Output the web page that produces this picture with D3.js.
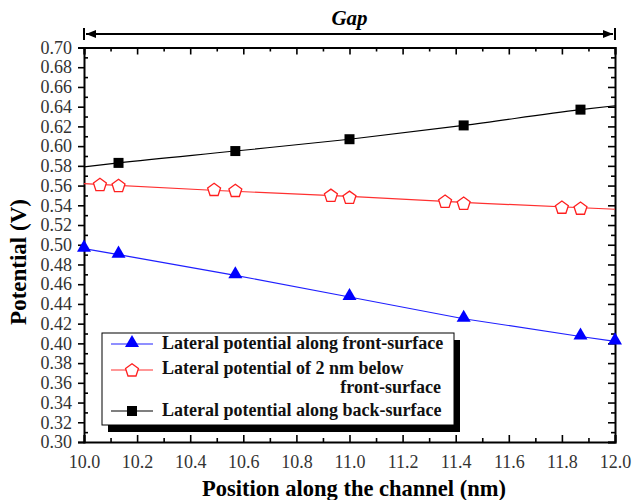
<!DOCTYPE html>
<html><head><meta charset="utf-8">
<script src="https://cdn.jsdelivr.net/npm/d3@7"></script>
<style>body{margin:0;background:#fff}svg{display:block}</style>
</head><body>
<svg id="chart" width="632" height="500"></svg>
<script>
// ---- data ----
const frontX = [10.0, 10.13, 10.57, 11.0, 11.43, 11.87, 12.0];
const frontY = [0.496, 0.490, 0.469, 0.447, 0.425, 0.407, 0.402];
const belowMarkX = [10.06, 10.13, 10.49, 10.57, 10.93, 11.0, 11.36, 11.43, 11.80, 11.87];
const belowMarkY = [0.561, 0.560, 0.556, 0.555, 0.550, 0.548, 0.544, 0.542, 0.538, 0.537];
const belowLineX = [10.0, 10.5, 11.0, 11.5, 12.0];
const belowLineY = [0.562, 0.555, 0.549, 0.542, 0.536];
const backMarkX = [10.13, 10.57, 11.0, 11.43, 11.87];
const backMarkY = [0.583, 0.595, 0.607, 0.621, 0.637];
const backLineX = [10.0, 10.13, 10.57, 11.0, 11.43, 11.87, 12.0];
const backLineY = [0.579, 0.583, 0.595, 0.607, 0.621, 0.637, 0.641];
const xTicks = [10.0, 10.2, 10.4, 10.6, 10.8, 11.0, 11.2, 11.4, 11.6, 11.8, 12.0];
const yTicks = [0.30,0.32,0.34,0.36,0.38,0.40,0.42,0.44,0.46,0.48,0.50,0.52,0.54,0.56,0.58,0.60,0.62,0.64,0.66,0.68,0.70];
const legendLabels = ["Lateral potential along  front-surface", "Lateral potential of 2 nm below", "front-surface", "Lateral potential along back-surface"];

const svg = d3.select("#chart");
const L = 84, R = 615, T = 47.5, B = 442;
const x = d3.scaleLinear().domain([10, 12]).range([L, R]);
const y = d3.scaleLinear().domain([0.30, 0.70]).range([B, T]);
const serif = '"Liberation Serif"';

const xMinor = d3.range(10.1, 12, 0.2);
const yMinor = d3.range(0.31, 0.70, 0.02);

const gB = svg.append("g").attr("transform", `translate(0,${B})`)
  .call(d3.axisBottom(x).tickValues(xTicks).tickSize(-7).tickPadding(13).tickFormat(d3.format(".1f")));
const gBm = svg.append("g").attr("transform", `translate(0,${B})`)
  .call(d3.axisBottom(x).tickValues(xMinor).tickSize(-4).tickFormat(""));
const gT = svg.append("g").attr("transform", `translate(0,${T})`)
  .call(d3.axisTop(x).tickValues(xTicks).tickSize(-7).tickFormat(""));
const gTm = svg.append("g").attr("transform", `translate(0,${T})`)
  .call(d3.axisTop(x).tickValues(xMinor).tickSize(-4).tickFormat(""));
const gL = svg.append("g").attr("transform", `translate(${L},0)`)
  .call(d3.axisLeft(y).tickValues(yTicks).tickSize(6).tickPadding(6).tickFormat(d3.format(".2f")));
const gLm = svg.append("g").attr("transform", `translate(${L},0)`)
  .call(d3.axisLeft(y).tickValues(yMinor).tickSize(-4).tickFormat(""));
const gR = svg.append("g").attr("transform", `translate(${R},0)`)
  .call(d3.axisRight(y).tickValues(yTicks).tickSize(-7).tickFormat(""));
const gRm = svg.append("g").attr("transform", `translate(${R},0)`)
  .call(d3.axisRight(y).tickValues(yMinor).tickSize(-4).tickFormat(""));

[gB,gBm,gT,gTm,gL,gLm,gR,gRm].forEach(g => {
  g.attr("font-family", null).attr("font-size", null);
  g.select(".domain").attr("stroke", "#000").attr("stroke-width", 2);
  g.selectAll(".tick line").attr("stroke", "#000").attr("stroke-width", 1.6);
  g.selectAll("text").style("font-family", serif).style("font-size", "18px").attr("fill", "#333");
});
[gBm,gTm,gLm,gRm].forEach(g => g.select(".domain").remove());

const line = d3.line().x(d => x(d[0])).y(d => y(d[1]));
const lineC = d3.line().x(d => x(d[0])).y(d => y(d[1])).curve(d3.curveMonotoneX);
const plot = svg.append("g");
plot.append("path").datum(frontX.map((v,i)=>[v,frontY[i]])).attr("d", line)
  .attr("fill","none").attr("stroke","#2020ff").attr("stroke-width",1.2);
plot.append("path").datum(belowLineX.map((v,i)=>[v,belowLineY[i]])).attr("d", line)
  .attr("fill","none").attr("stroke","#ff3030").attr("stroke-width",1.2);
plot.append("path").datum(backLineX.map((v,i)=>[v,backLineY[i]])).attr("d", lineC)
  .attr("fill","none").attr("stroke","#000").attr("stroke-width",1.1);

const tri = d3.symbol().type(d3.symbolTriangle).size(85);
const pent = (r) => {
  const pts = d3.range(5).map(i => { const a = -Math.PI/2 + i*2*Math.PI/5; return [r*Math.cos(a), r*Math.sin(a)]; });
  return "M" + pts.map(p => p.join(",")).join("L") + "Z";
};
plot.selectAll(".tri").data(frontX.map((v,i)=>[v,frontY[i]])).join("path")
  .attr("d", tri).attr("transform", d => `translate(${x(d[0])},${y(d[1])-1})`).attr("fill","#0000ff");
plot.selectAll(".pent").data(belowMarkX.map((v,i)=>[v,belowMarkY[i]])).join("path")
  .attr("d", pent(6.8)).attr("transform", d => `translate(${x(d[0])},${y(d[1])+0.5})`)
  .attr("fill","#fff").attr("stroke","#ff2020").attr("stroke-width",1.3);
plot.selectAll(".sq").data(backMarkX.map((v,i)=>[v,backMarkY[i]])).join("rect")
  .attr("x", d => x(d[0])-5).attr("y", d => y(d[1])-5).attr("width",10).attr("height",10).attr("fill","#000");

// Gap arrow
const ga = svg.append("g");
const gy = 34;
ga.append("line").attr("x1", x(10)+2).attr("x2", x(12)-2).attr("y1", gy).attr("y2", gy).attr("stroke","#000").attr("stroke-width",2.2);
ga.append("line").attr("x1", x(10)).attr("x2", x(10)).attr("y1", gy-6).attr("y2", gy+6).attr("stroke","#000").attr("stroke-width",2);
ga.append("line").attr("x1", x(12)).attr("x2", x(12)).attr("y1", gy-6).attr("y2", gy+6).attr("stroke","#000").attr("stroke-width",2);
ga.append("path").attr("d", `M${x(10)+2},${gy}L${x(10)+12},${gy-4}L${x(10)+12},${gy+4}Z`).attr("fill","#000");
ga.append("path").attr("d", `M${x(12)-2},${gy}L${x(12)-12},${gy-4}L${x(12)-12},${gy+4}Z`).attr("fill","#000");
ga.append("text").attr("x", x(11)).attr("y", 25).attr("text-anchor","middle")
  .style("font-family", serif).style("font-weight","bold").style("font-style","italic").style("font-size","21px").text("Gap");

// axis titles
svg.append("text").attr("x", 354).attr("y", 496).attr("text-anchor","middle")
  .style("font-family", serif).style("font-weight","bold").style("font-size","22.5px").text("Position along  the channel (nm)");
svg.append("text").attr("transform","translate(26,262) rotate(-90)").attr("text-anchor","middle")
  .style("font-family", serif).style("font-weight","bold").style("font-size","23px").text("Potential (V)");

// legend
const lg = svg.append("g");
const bx = 102, by = 333, bw = 352, bh = 92;
lg.append("rect").attr("x", bx+6).attr("y", by+7).attr("width", bw).attr("height", bh).attr("fill","#000");
lg.append("rect").attr("x", bx).attr("y", by).attr("width", bw).attr("height", bh).attr("fill","#fff").attr("stroke","#000").attr("stroke-width",1);
const rows = [344, 370, 411];
const colors = ["#2020ff","#ff3030","#000"];
rows.forEach((ry,i) => {
  lg.append("line").attr("x1",111).attr("x2",153).attr("y1",ry).attr("y2",ry).attr("stroke",colors[i]).attr("stroke-width",1.2);
});
lg.append("path").attr("d", tri).attr("transform", `translate(132,${rows[0]-1})`).attr("fill","#0000ff");
lg.append("path").attr("d", pent(6.8)).attr("transform", `translate(132,${rows[1]+0.5})`).attr("fill","#fff").attr("stroke","#ff2020").attr("stroke-width",1.3);
lg.append("rect").attr("x",127).attr("y",rows[2]-5).attr("width",10).attr("height",10).attr("fill","#000");
const lt = (tx, ty, s, anchor) => lg.append("text").attr("x",tx).attr("y",ty).attr("text-anchor",anchor||"start")
  .style("font-family", serif).style("font-weight","bold").style("font-size","18px").attr("fill","#111").text(s);
lt(162, rows[0]+5, legendLabels[0]);
lt(162, rows[1]+4, legendLabels[1]);
lt(441, 393, legendLabels[2], "end");
lt(162, rows[2]+5, legendLabels[3]);
</script>
</body></html>
